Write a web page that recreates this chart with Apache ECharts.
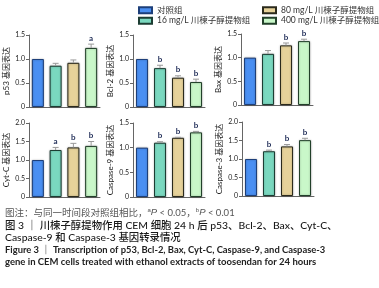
<!DOCTYPE html>
<html>
<head>
<meta charset="utf-8">
<script src="https://cdn.jsdelivr.net/npm/echarts@6/dist/echarts.min.js"></script>
<style>
  html, body { margin: 0; padding: 0; background: #fff; }
  #chart { width: 379px; height: 288px; }
</style>
</head>
<body>
<div id="chart"></div>
<script>
  // 组别
  const groups = ['对照组', '16 mg/L 川楝子醇提物组', '80 mg/L 川楝子醇提物组', '400 mg/L 川楝子醇提物组']
  const genes = ['p53', 'Bcl-2', 'Bax', 'Cyt-C', 'Caspase-9', 'Caspase-3']
  // 各基因表达均值 / 误差 / 显著性
  const p53Mean = [1.0, 0.86, 0.92, 1.23]
  const p53Err = [0, 0.05, 0.06, 0.08]
  const p53Sig = ['', '', '', 'a']
  const bcl2Mean = [1.0, 0.81, 0.61, 0.52]
  const bcl2Err = [0, 0.06, 0.04, 0.06]
  const bcl2Sig = ['', 'b', 'b', 'b']
  const baxMean = [1.0, 1.08, 1.26, 1.35]
  const baxErr = [0, 0.07, 0.05, 0.04]
  const baxSig = ['', '', 'b', 'b']
  const cytcMean = [1.0, 1.27, 1.34, 1.38]
  const cytcErr = [0, 0.07, 0.11, 0.12]
  const cytcSig = ['', 'a', 'b', 'b']
  const casp9Mean = [1.0, 1.10, 1.20, 1.31]
  const casp9Err = [0, 0.02, 0.01, 0.02]
  const casp9Sig = ['', 'b', 'b', 'b']
  const casp3Mean = [1.0, 1.21, 1.34, 1.51]
  const casp3Err = [0, 0.03, 0.05, 0.05]
  const casp3Sig = ['', 'b', 'b', 'b']
  const yMax = [1.5, 1.5, 1.5, 2.0, 1.5, 2.0]

  const means = [p53Mean, bcl2Mean, baxMean, cytcMean, casp9Mean, casp3Mean]
  const errs = [p53Err, bcl2Err, baxErr, cytcErr, casp9Err, casp3Err]
  const sigs = [p53Sig, bcl2Sig, baxSig, cytcSig, casp9Sig, casp3Sig]

  const colors = ['#4a8ff2', '#7ad8bf', '#e6d29a', '#c9f7c9']
  const borders = ['#1d3f7a', '#1c3d33', '#2b2a1c', '#22402a']
  // 网格位置
  const grids = [
    { left: 29, top: 35, width: 71, height: 72 },
    { left: 133, top: 35, width: 72, height: 72 },
    { left: 241, top: 34, width: 72, height: 71 },
    { left: 29, top: 123, width: 71, height: 74 },
    { left: 133, top: 123, width: 72, height: 74 },
    { left: 242, top: 122, width: 72, height: 74 },
  ]
  const FONT = 'Lato, "Noto Sans CJK SC", sans-serif'

  const chart = echarts.init(document.getElementById('chart'))

  let xAxis = [], yAxis = [], series = []
  grids.forEach((g, i) => {
    xAxis.push({
      type: 'category',
      gridIndex: i,
      data: groups,
      axisLine: { lineStyle: { color: '#666', width: 1 } },
      axisTick: { alignWithLabel: true, length: 3, lineStyle: { color: '#666' } },
      axisLabel: { show: false },
    })
    yAxis.push({
      type: 'value',
      gridIndex: i,
      min: 0,
      max: yMax[i],
      interval: 0.5,
      name: genes[i] + ' 基因表达',
      nameLocation: 'middle',
      nameGap: 19,
      nameTextStyle: { fontSize: 8, color: '#222', fontFamily: FONT },
      axisLine: { show: true, lineStyle: { color: '#666', width: 1 } },
      axisTick: { show: true, length: 3, lineStyle: { color: '#666' } },
      splitLine: { show: false },
      axisLabel: {
        fontSize: 7,
        color: '#222',
        margin: 4,
        fontFamily: FONT,
        formatter: (v) => (v === 0 ? '0' : v.toFixed(1)),
      },
    })
    groups.forEach((name, k) => {
      series.push({
        name: name,
        type: 'bar',
        xAxisIndex: i,
        yAxisIndex: i,
        barWidth: 12,
        barGap: '-100%',
        data: means[i].map((v, j) => (j === k ? v : '-')),
        itemStyle: {
          color: colors[k],
          borderColor: borders[k],
          borderWidth: 1,
          shadowColor: 'rgba(0,0,0,0.3)',
          shadowBlur: 2,
        },
        silent: true,
      })
    })
    // 误差线 + 显著性标记
    series.push({
      type: 'custom',
      xAxisIndex: i,
      yAxisIndex: i,
      z: 5,
      data: means[i].map((v, j) => [j, v, errs[i][j]]),
      renderItem: function (params, api) {
        const j = api.value(0)
        const m = api.value(1)
        const e = api.value(2)
        const base = api.coord([j, m])
        const top = api.coord([j, m + e])
        const children = []
        if (e > 0) {
          children.push({
            type: 'line',
            shape: { x1: base[0], y1: base[1], x2: top[0], y2: top[1] },
            style: { stroke: '#999', lineWidth: 1 },
          })
          children.push({
            type: 'line',
            shape: { x1: top[0] - 3, y1: top[1], x2: top[0] + 3, y2: top[1] },
            style: { stroke: '#999', lineWidth: 1 },
          })
        }
        const s = sigs[i][params.dataIndex]
        if (s) {
          children.push({
            type: 'text',
            x: top[0],
            y: top[1] - 2,
            style: {
              text: s,
              fontSize: 8,
              fontWeight: 'bold',
              fill: '#23305a',
              fontFamily: FONT,
              align: 'center',
              verticalAlign: 'bottom',
            },
          })
        }
        return { type: 'group', children: children }
      },
    })
  })

  const legendBase = {
    orient: 'vertical',
    top: 1,
    itemWidth: 13,
    itemHeight: 6,
    itemGap: 2,
    icon: 'rect',
    textStyle: { fontSize: 8.5, color: '#333', fontFamily: FONT },
    selectedMode: false,
  }

  let option = {
    animation: false,
    grid: grids,
    xAxis: xAxis,
    yAxis: yAxis,
    legend: [
      Object.assign({}, legendBase, { left: 133, data: [groups[0], groups[1]] }),
      Object.assign({}, legendBase, { left: 257, data: [groups[2], groups[3]] }),
    ],
    series: series,
    graphic: [
      {
        type: 'text',
        left: 5,
        top: 207,
        style: {
          text: '图注：与同一时间段对照组相比，{sup|a}{i|P} < 0.05，{sup|b}{i|P} < 0.01',
          fontSize: 9.5,
          fill: '#555',
          fontFamily: FONT,
          rich: {
            sup: { fontSize: 6, fill: '#555', verticalAlign: 'top', padding: [0, 0, 5, 0] },
            i: { fontSize: 9.5, fontStyle: 'italic', fill: '#555' },
          },
        },
      },
      {
        type: 'text',
        left: 5,
        top: 220,
        style: {
          text: '图 3 ｜ 川楝子醇提物作用 CEM 细胞 24 h 后 p53、Bcl-2、Bax、Cyt-C、',
          fontSize: 10.4,
          fontWeight: 500,
          fill: '#1a1a1a',
          fontFamily: FONT,
        },
      },
      {
        type: 'text',
        left: 5,
        top: 232,
        style: {
          text: 'Caspase-9 和 Caspase-3 基因转录情况',
          fontSize: 10.4,
          fontWeight: 500,
          fill: '#1a1a1a',
          fontFamily: FONT,
        },
      },
      {
        type: 'text',
        left: 5,
        top: 245,
        style: {
          text: 'Figure 3 ｜ Transcription of p53, Bcl-2, Bax, Cyt-C, Caspase-9, and Caspase-3',
          fontSize: 9.4,
          fontWeight: 'bold',
          fill: '#222',
          fontFamily: FONT,
        },
      },
      {
        type: 'text',
        left: 5,
        top: 257,
        style: {
          text: 'gene in CEM cells treated with ethanol extracts of toosendan for 24 hours',
          fontSize: 9.5,
          fontWeight: 'bold',
          fill: '#222',
          fontFamily: FONT,
        },
      },
    ],
  }
  chart.setOption(option)
</script>
</body>
</html>
